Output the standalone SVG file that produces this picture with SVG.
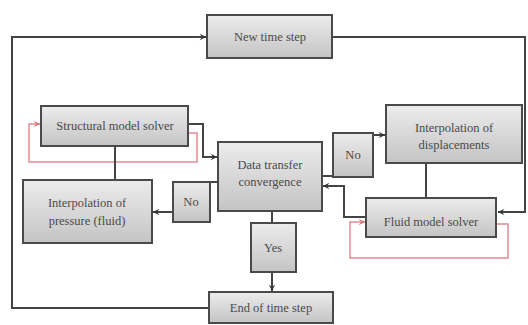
<svg xmlns="http://www.w3.org/2000/svg" width="528" height="325" viewBox="0 0 528 325">
<defs>
<linearGradient id="g" x1="0" y1="0" x2="0" y2="1">
<stop offset="0" stop-color="#ececec"/>
<stop offset="1" stop-color="#c4c4c4"/>
</linearGradient>
<marker id="ad" viewBox="0 0 10 10" refX="9" refY="5" markerWidth="8" markerHeight="8" markerUnits="userSpaceOnUse" orient="auto">
<path d="M1,1 L9,5 L1,9 L4,5 Z" fill="#333"/>
</marker>
<marker id="ar" viewBox="0 0 10 10" refX="9" refY="5" markerWidth="8" markerHeight="8" markerUnits="userSpaceOnUse" orient="auto">
<path d="M1,1 L9,5 L1,9 L4,5 Z" fill="#d9777d"/>
</marker>
</defs>
<style>
.box{fill:url(#g);stroke:#4a4a4a;stroke-width:2}
.t{font-family:"Liberation Serif","Times New Roman",serif;font-size:12.5px;fill:#4a4a4a;text-anchor:middle}
.c{fill:none;stroke:#444;stroke-width:2}
.r{fill:none;stroke:#e08d92;stroke-width:1.5}
</style>
<rect width="528" height="325" fill="#fff"/>
<g id="connectors">
<polyline class="c" points="209,308 12,308 12,37 206,37" marker-end="url(#ad)"/>
<polyline class="c" points="332,37 525,37 525,212 498,212" marker-end="url(#ad)"/>
<polyline class="c" points="188,124 203,124 203,157 217,157" marker-end="url(#ad)"/>
<polyline class="r" points="188,133 197,133 197,162 29,162 29,124 40,124" marker-end="url(#ar)"/>
<line class="c" x1="115" y1="146" x2="115" y2="180"/>
<line class="c" x1="210" y1="182" x2="218" y2="182"/>
<polyline class="c" points="173,212 153,212" marker-end="url(#ad)"/>
<line class="c" x1="272" y1="211" x2="272" y2="223"/>
<polyline class="c" points="272,272 272,291" marker-end="url(#ad)"/>
<line class="c" x1="322" y1="176" x2="333" y2="176"/>
<polyline class="c" points="373,135 385,135" marker-end="url(#ad)"/>
<line class="c" x1="426" y1="163" x2="426" y2="198"/>
<polyline class="c" points="366,217 344,217 344,186 323,186" marker-end="url(#ad)"/>
<polyline class="r" points="496,224 508,224 508,258 350,258 350,222 365,222" marker-end="url(#ar)"/>
</g>
<g id="new-time-step">
<rect class="box" x="207" y="15" width="125" height="43"/>
<text class="t" x="270" y="41">New time step</text>
</g>
<g id="structural-model-solver">
<rect class="box" x="41" y="106" width="147" height="40"/>
<text class="t" x="115" y="130">Structural model solver</text>
</g>
<g id="data-transfer">
<rect class="box" x="218" y="142" width="104" height="69"/>
<text class="t" x="270" y="169">Data transfer</text>
<text class="t" x="270" y="186">convergence</text>
</g>
<g id="interp-pressure">
<rect class="box" x="23" y="180" width="129" height="63"/>
<text class="t" x="87" y="207">Interpolation of</text>
<text class="t" x="87" y="225">pressure (fluid)</text>
</g>
<g id="no-left">
<rect class="box" x="173" y="182" width="37" height="40"/>
<text class="t" x="191" y="206">No</text>
</g>
<g id="yes">
<rect class="box" x="251" y="223" width="45" height="49"/>
<text class="t" x="273" y="252">Yes</text>
</g>
<g id="end-of-time-step">
<rect class="box" x="209" y="292" width="124" height="31"/>
<text class="t" x="271" y="312">End of time step</text>
</g>
<g id="no-right">
<rect class="box" x="333" y="133" width="40" height="44"/>
<text class="t" x="353" y="159">No</text>
</g>
<g id="interp-displacements">
<rect class="box" x="386" y="105" width="136" height="58"/>
<text class="t" x="454" y="132">Interpolation of</text>
<text class="t" x="454" y="149">displacements</text>
</g>
<g id="fluid-model-solver">
<rect class="box" x="366" y="198" width="130" height="39"/>
<text class="t" x="431" y="226">Fluid model solver</text>
</g>
</svg>
